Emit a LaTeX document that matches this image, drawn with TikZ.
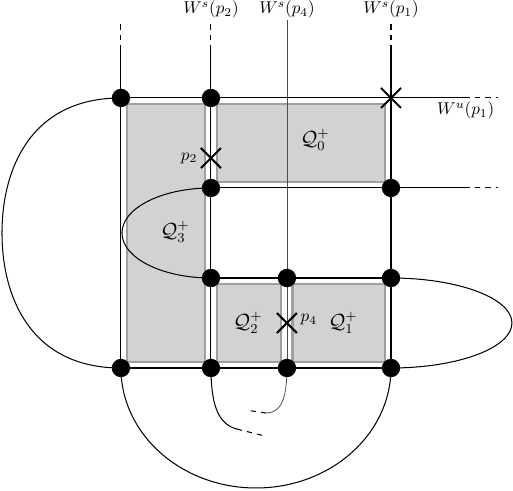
\documentclass[tikz,border=0pt]{standalone}
\usepackage{amsmath,amssymb}
\usepackage{tikz}
\usetikzlibrary{shapes.misc}

\begin{document}
\begin{tikzpicture}[scale=1.85,
	zone/.style={fill=gray!35,draw=gray!75,line width=1.5pt},
	croix/.style={cross out,draw,line width=1.2pt,minimum size=10.5pt,inner sep=0pt},
	ligne/.style={line width=0.6pt}]
	\useasboundingbox (-1.344,-1.356) rectangle (4.356,4.089);
	% sommets de la grille
	\foreach \x/\n in {0/a,1/b,1.844/c,3/d}
		\foreach \y in {0,1,2,3}
			\coordinate (\n\y) at (\x,\y);
	% rectangles
	\draw[zone] (0.065,0.065) rectangle (0.935,2.935);
	\draw[zone] (1.065,2.065) rectangle (2.935,2.935);
	\draw[zone] (1.065,0.065) rectangle (1.779,0.935);
	\draw[zone] (1.909,0.065) rectangle (2.935,0.935);
	\node (q0) at (2.156,2.533) {\large $\mathcal{Q}_0^+$};
	\node (q3) at (0.6,1.511) {\large $\mathcal{Q}_3^+$};
	\node (q2) at (1.411,0.5) {\large $\mathcal{Q}_2^+$};
	\node (q1) at (2.467,0.5) {\large $\mathcal{Q}_1^+$};
	% varietes stables
	\foreach \n in {a,b,d} {
		\draw[ligne] (\n0) -- ++(0,3.533);
		\draw[ligne,dashed] (\n0) ++(0,3.533) -- ++(0,0.333) coordinate (h\n);
	}
	\node[above,inner sep=1pt] (ws2) at (hb) {$W^s(p_2)$};
	\node[above,inner sep=1pt] (ws1) at (hd) {$W^s(p_1)$};
	\draw[line width=0.45pt,black!70] (c0) -- ++(0,3.867) coordinate (hc);
	\node[above,inner sep=1pt] (ws4) at (hc) {$W^s(p_4)$};
	% varietes instables
	\draw[ligne] (a3) -- ++(3.822,0);
	\draw[ligne,dashed] (a3) ++(3.822,0) -- ++(0.367,0) coordinate (hu);
	\node[below left,inner sep=2pt] (wu1) at (hu) {$W^u(p_1)$};
	\draw[ligne] (b2) -- ++(2.822,0);
	\draw[ligne,dashed] (b2) ++(2.822,0) -- ++(0.367,0);
	\draw[ligne] (b1) -- (d1);
	\draw[ligne] (a0) -- (d0);
	% boucles
	\draw[ligne] (a3) .. controls (-1.011,3) and (-1.322,2.2) .. (-1.322,1.5)
		.. controls (-1.322,0.8) and (-1.011,0) .. (a0);
	\draw[ligne] (b2) arc[start angle=90,end angle=270,x radius=0.989,y radius=0.5];
	\draw[ligne] (d1) arc[start angle=90,end angle=-90,x radius=1.344,y radius=0.5];
	\draw[ligne] (a0) arc[start angle=180,end angle=360,x radius=1.5,y radius=1.333];
	% bouts sous la grille
	\draw[ligne] (b0) .. controls (1,-0.45) and (1.1,-0.63) .. (1.289,-0.678) coordinate (e1);
	\draw[ligne,dashed] (e1) -- (1.6,-0.756);
	\draw[line width=0.45pt,black!70] (c0) .. controls (1.844,-0.36) and (1.77,-0.5) .. (1.611,-0.5) coordinate (e2);
	\draw[ligne,dashed] (e2) -- (1.389,-0.467);
	% points
	\foreach \p in {a3,b3,b2,d2,b1,c1,d1,a0,b0,c0,d0}
		\fill (\p) circle (2.9pt);
	% points fixes
	\node[croix] (p1) at (d3) {};
	\node[croix] (p2) at (1,2.333) {};
	\node[left,inner sep=2pt] (l2) at (p2.west) {$p_2$};
	\node[croix] (p4) at (1.844,0.5) {};
	\node[right,inner sep=2pt,yshift=2pt] (l4) at (p4.east) {$p_4$};
\end{tikzpicture}
\end{document}
